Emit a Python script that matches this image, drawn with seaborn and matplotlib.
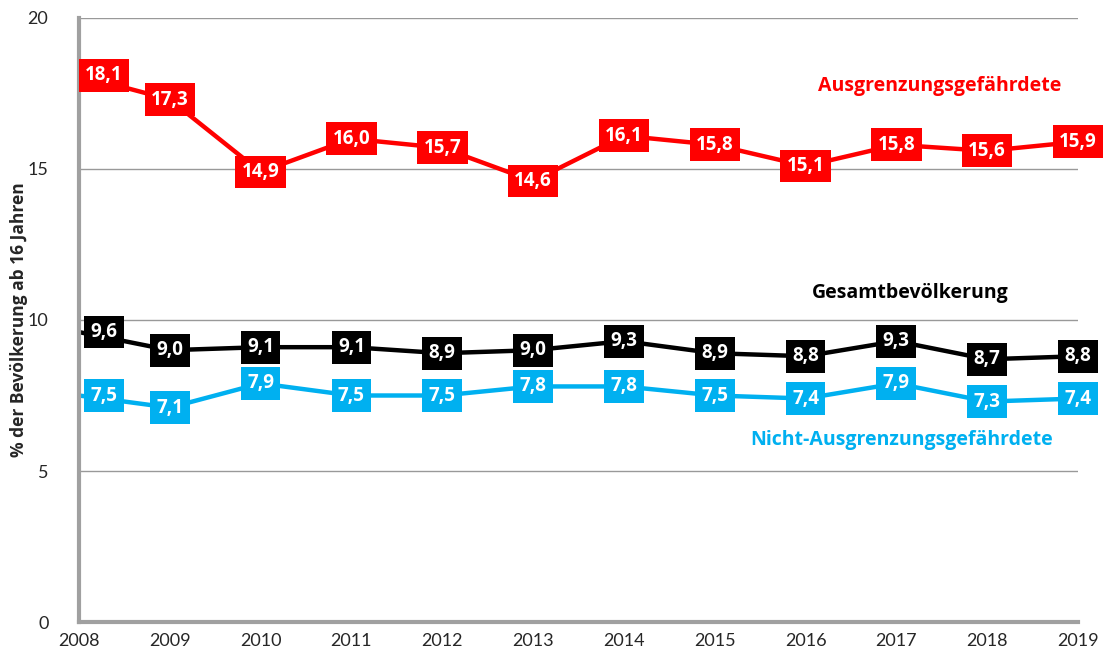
import matplotlib
matplotlib.use("Agg")
import matplotlib.pyplot as plt
import seaborn as sns
import pandas as pd

years = [2008, 2009, 2010, 2011, 2012, 2013, 2014, 2015, 2016, 2017, 2018, 2019]
ausgrenzung = [18.1, 17.3, 14.9, 16.0, 15.7, 14.6, 16.1, 15.8, 15.1, 15.8, 15.6, 15.9]
gesamt = [9.6, 9.0, 9.1, 9.1, 8.9, 9.0, 9.3, 8.9, 8.8, 9.3, 8.7, 8.8]
nicht_ausgrenzung = [7.5, 7.1, 7.9, 7.5, 7.5, 7.8, 7.8, 7.5, 7.4, 7.9, 7.3, 7.4]

series_names = ["Ausgrenzungsgefährdete", "Gesamtbevölkerung", "Nicht-Ausgrenzungsgefährdete"]
colors = ["#FF0000", "#000000", "#00B0F0"]

df = pd.DataFrame({
    "Jahr": years * 3,
    "Wert": ausgrenzung + gesamt + nicht_ausgrenzung,
    "Gruppe": [series_names[0]] * 12 + [series_names[1]] * 12 + [series_names[2]] * 12,
})

sns.set_style("white")
plt.rcParams["font.family"] = ["Lato", "DejaVu Sans"]

fig = plt.figure(figsize=(11.06, 6.63), dpi=100)
ax = fig.add_axes([0.0714, 0.0618, 0.9033, 0.9111])

sns.lineplot(data=df, x="Jahr", y="Wert", hue="Gruppe", hue_order=series_names,
             palette=colors, linewidth=3.2, legend=False, ax=ax)

# value boxes
for name, col in zip(series_names, colors):
    sub = df[df["Gruppe"] == name]
    for yr, val in zip(sub["Jahr"], sub["Wert"]):
        dx = 18 if yr == years[0] else 0
        ax.annotate(f"{val:.1f}".replace(".", ","), (yr, val),
                    xytext=(dx, 0), textcoords="offset points",
                    ha="center", va="center", color="white",
                    fontsize=13.5, fontweight="bold", family="Open Sans",
                    annotation_clip=False,
                    bbox=dict(boxstyle="square,pad=0.34", fc=col, ec="none"),
                    zorder=5)

# series names
name_pos = [(2017.48, 17.75), (2017.15, 10.9), (2017.06, 6.03)]
for name, col, (tx, ty) in zip(series_names, colors, name_pos):
    ax.text(tx, ty, name, color=col, fontsize=14, fontweight="bold",
            family="Open Sans", ha="center", va="center")

ax.set_xlim(2008, 2019)
ax.set_ylim(0, 20)
ax.set_xticks(years)
ax.set_yticks([0, 5, 10, 15, 20])
ax.tick_params(axis="both", labelsize=13, length=0)
ax.tick_params(axis="x", pad=8)
ax.tick_params(axis="y", pad=22)
ax.grid(axis="y", color="#999999", linewidth=1)
ax.set_axisbelow(True)
for s in ["top", "right"]:
    ax.spines[s].set_visible(False)
for s in ["left", "bottom"]:
    ax.spines[s].set_color("#A0A0A0")
    ax.spines[s].set_linewidth(3)
ax.set_xlabel("")
ax.set_ylabel("% der Bevölkerung ab 16 Jahren", fontsize=12.5, fontweight="bold",
              family="Open Sans", labelpad=0)

fig.savefig("out.png", dpi=100)
